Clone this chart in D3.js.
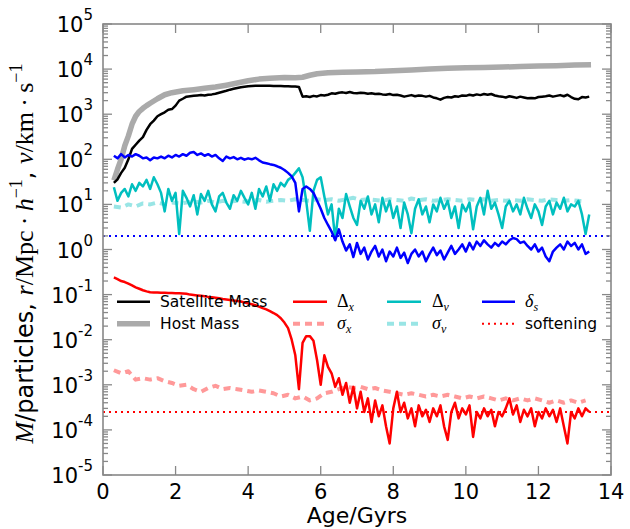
<!DOCTYPE html>
<html><head><meta charset="utf-8">
<script src="https://cdn.jsdelivr.net/npm/d3@7/dist/d3.min.js"></script>
<style>body{margin:0;background:#fff}svg{display:block}</style>
</head><body><svg id="c" width="630" height="529"></svg>
<script>
// ---------- data ----------
const ageStart = 0.3;      // Gyr, first snapshot of the sampled series
const fineStep = 0.1;      // Gyr between samples of the fine series
const coarseStep = 0.2;    // Gyr between samples of the sigma series

const hostAge  = [0.3,0.4,0.5,0.6,0.7,0.8,0.9,1.0,1.1,1.2,1.3,1.5,1.7,1.9,2.2,2.5,2.8,3.1,3.4,3.7,4.0,4.3,4.6,5.0,5.3,5.5,5.7,5.9,6.2,6.6,7.0,7.5,8.0,8.5,9.0,9.5,10.0,10.5,11.0,11.5,12.0,12.5,13.0,13.45];
const hostMass = [34,60,100,200,330,600,900,1150,1350,1550,1750,2200,2700,3000,3300,3500,3750,4000,4400,4900,5500,6000,6300,6500,6400,6600,7300,7900,8300,8500,8600,8800,9200,9500,10000,10400,10700,10900,11100,11400,11700,11900,12300,12500];

const satelliteMass = [
 30,36,50,65,100,170,210,260,310,450,
 600,720,900,1000,1100,1250,1300,1550,2000,2200,
 2450,2500,2550,2600,2650,2600,2700,2750,2850,3000,
 3150,3300,3500,3650,3800,3950,4050,4150,4200,4250,
 4250,4250,4250,4250,4230,4220,4200,4180,4150,4120,
 4100,4000,2450,2500,2400,2550,2480,2650,2600,2700,
 2900,2850,3000,3050,2950,3100,2950,2900,3000,2950,
 2850,2900,2800,2850,2750,2700,2800,2650,2700,2600,
 2450,2550,2650,2500,2600,2550,2450,2550,2350,2250,
 2100,2300,2400,2350,2500,2450,2600,2550,2700,2600,
 2750,2650,2800,2700,2800,2600,2500,2450,2350,2500,
 2400,2300,2450,2350,2250,2300,2250,2400,2450,2500,
 2600,2450,2550,2650,2500,2700,2400,2200,2150,2400,
 2350,2450];

const deltaX = [
 0.24,0.22,0.2,0.19,0.175,0.16,0.145,0.135,0.125,0.118,
 0.113,0.112,0.111,0.11,0.11,0.109,0.108,0.107,0.107,0.106,
 0.104,0.1,0.098,0.096,0.094,0.092,0.089,0.087,0.085,0.083,
 0.08,0.078,0.076,0.074,0.072,0.07,0.067,0.064,0.061,0.058,
 0.054,0.05,0.047,0.043,0.039,0.035,0.03,0.024,0.018,0.01,
 0.0045,0.0008,0.0085,0.012,0.012,0.0095,0.0035,0.001,0.0045,0.0025,
 0.0018,0.0009,0.0014,0.0006,0.0011,0.0004,0.0009,0.0003,0.0007,0.00025,
 0.0005,0.00015,0.00045,0.0002,0.00035,0.00012,0.00005,0.0003,0.0007,0.00025,
 0.0004,0.00018,0.0003,0.00012,0.00035,0.0002,0.00028,0.00015,0.0003,0.0002,
 0.00035,0.00012,0.00006,0.00025,0.0004,0.00018,0.0003,0.00022,0.00035,0.00007,
 0.00025,0.00018,0.0003,0.0002,0.00028,0.00012,0.00025,0.0002,0.0003,0.0005,
 0.00022,0.00035,0.00015,0.00028,0.0002,0.0003,0.00012,0.00025,0.00018,0.0003,
 0.0002,0.00028,0.00015,0.0003,0.00012,0.00005,0.00025,0.00018,0.0003,0.0002,
 0.0003,0.00025];

const sigmaX = [
 0.0021,0.0018,0.002,0.0013,0.0014,0.0013,0.0014,0.0012,0.0011,0.00095,
 0.001,0.0008,0.0007,0.00085,0.00095,0.0008,0.00085,0.0008,0.00075,0.0007,
 0.00075,0.0007,0.00065,0.00055,0.0006,0.0005,0.00055,0.00045,0.0005,0.00065,
 0.0007,0.0008,0.0009,0.00085,0.0009,0.0008,0.00085,0.00075,0.0007,0.00065,
 0.0006,0.00065,0.0006,0.00055,0.0006,0.00055,0.0006,0.00055,0.0005,0.00055,
 0.0005,0.00055,0.0005,0.00045,0.0005,0.00045,0.0005,0.00045,0.0005,0.00045,
 0.0004,0.00045,0.0004,0.00045,0.0004,0.00045];

const deltaV = [
 24,12,18,22,15,28,20,30,25,35,
 22,40,28,18,7,22,12,18,2.2,20,
 14,9,16,6,17,12,20,10,7,15,
 18,11,8,16,12,20,14,10,18,8,
 22,15,25,12,28,20,30,25,35,40,
 50,63,40,12,2.6,20,35,40,15,6,
 10,1.7,8,5,17,9,5,3.5,12,8,
 15,6,10,4,14,7,12,5,9,3,
 11,6,2.3,8,13,6,9,4,10,7,
 14,8,12,5,9,3,10,7,11,2.8,
 9,14,6,20,8,11,6,3,9,12,
 7,10,6,14,8,5,10,7,3.5,9,
 12,6,11,8,14,7,10,9,12,6,
 2.2,6];

const sigmaV = [
 9,8.5,10,9,10.5,10,11,10,11,10.5,
 11,11.5,11,12,11,12,11.5,12,11.5,12,
 12.5,11.5,12,12.5,12,13,12.5,12,13,12.5,
 13,12,13,14,12.5,13,12.5,12,13,12.5,
 12,13.5,12.5,13,12,12.5,13,12.5,12,13,
 12.5,13,12,12.5,12,12.5,12,13,12.5,12,
 13,12.5,12,12.5,12,11.5];

const deltaS = [
 120,105,130,110,125,115,130,120,105,110,
 95,110,105,115,105,120,110,125,115,130,
 120,140,145,125,135,120,130,115,125,105,
 92,115,105,112,100,108,98,105,100,108,
 95,85,82,78,75,70,65,58,50,42,
 30,7,22,25,22,18,12,8,5,3.5,
 2.5,1.6,2.8,1.5,0.95,1.3,0.68,1.4,0.8,1.1,
 0.6,0.9,1.2,0.7,1.0,0.55,0.9,0.7,1.1,0.65,
 0.85,0.5,0.8,1.0,0.7,0.9,0.55,0.8,1.1,0.75,
 0.95,0.6,0.85,1.2,0.8,1.0,1.3,0.9,1.4,1.0,
 1.5,1.2,1.6,1.3,1.1,1.4,1.2,1.5,1.3,1.6,
 1.8,1.7,1.4,1.5,1.2,1.0,1.3,0.9,1.1,0.7,
 0.55,0.9,1.1,1.3,1.0,1.5,1.2,1.4,1.0,1.3,
 0.8,0.9];

const softening = 2.5e-4;   // Mpc/h
const deltaSLevel = 2;      // reference level for delta_s
const xTickValues = [0,2,4,6,8,10,12,14];
const yDecades = [-5,-4,-3,-2,-1,0,1,2,3,4,5];

// ---------- drawing ----------
const svg = d3.select('#c');
const L = 103, R = 611, T = 24, B = 475;
const x = d3.scaleLinear().domain([0,14]).range([L,R]);
const y = d3.scaleLog().domain([1e-5,1e5]).range([B,T]);

svg.append('defs').append('clipPath').attr('id','clip')
  .append('rect').attr('x',L).attr('y',T).attr('width',R-L).attr('height',B-T);

const plot = svg.append('g').attr('clip-path','url(#clip)');
const line = d3.line().x(d=>x(d[0])).y(d=>y(d[1]));
const toPts = (vals, step) => vals.map((v,i)=>[ageStart + step*i, v]);

function draw(pts, color, width, dash){
  const p = plot.append('path').datum(pts).attr('d',line)
    .attr('fill','none').attr('stroke',color).attr('stroke-width',width)
    .attr('stroke-linejoin','round');
  if (dash) p.attr('stroke-dasharray',dash);
  return p;
}

const C = {
  host:'#aaaaaa', sat:'#000000', dx:'#ff0000', sx:'#ff9999',
  dv:'#00bfbf', sv:'#99e5e5', ds:'#0000ff'
};

draw(hostAge.map((a,i)=>[a,hostMass[i]]), C.host, 5.5);
draw(toPts(satelliteMass, fineStep), C.sat, 2.5);
draw(toPts(sigmaX, coarseStep), C.sx, 4, '7,5');
draw(toPts(deltaX, fineStep), C.dx, 2.5);
draw(toPts(sigmaV, coarseStep), C.sv, 4, '7,5');
draw(toPts(deltaV, fineStep), C.dv, 2.5);
draw(toPts(deltaS, fineStep), C.ds, 2.5);
draw([[0,softening],[14,softening]], '#ff0000', 2, '2,4');
draw([[0,deltaSLevel],[14,deltaSLevel]], '#0000ff', 2, '2,4');

// frame & ticks
const axisCol = '#888888';
const ax = svg.append('g').attr('stroke',axisCol).attr('stroke-width',1.3);
xTickValues.forEach(v=>{
  ax.append('line').attr('x1',x(v)).attr('x2',x(v)).attr('y1',B).attr('y2',B-9);
  ax.append('line').attr('x1',x(v)).attr('x2',x(v)).attr('y1',T).attr('y2',T+9);
});
yDecades.forEach(d=>{
  const yy = y(Math.pow(10,d));
  ax.append('line').attr('x1',L).attr('x2',L+9).attr('y1',yy).attr('y2',yy);
  ax.append('line').attr('x1',R).attr('x2',R-9).attr('y1',yy).attr('y2',yy);
  if (d < 5) for (let m=2;m<=9;m++){
    const ym = y(m*Math.pow(10,d));
    ax.append('line').attr('x1',L).attr('x2',L+5).attr('y1',ym).attr('y2',ym);
    ax.append('line').attr('x1',R).attr('x2',R-5).attr('y1',ym).attr('y2',ym);
  }
});
svg.append('rect').attr('x',L).attr('y',T).attr('width',R-L).attr('height',B-T)
  .attr('fill','none').attr('stroke',axisCol).attr('stroke-width',1.6);

// tick labels
const sans = 'DejaVu Sans, sans-serif';
xTickValues.forEach(v=>{
  svg.append('text').attr('x',x(v)).attr('y',498.5).attr('text-anchor','middle')
    .attr('font-family',sans).attr('font-size',21).attr('fill','#000').text(v);
});
yDecades.forEach(d=>{
  const t = svg.append('text').attr('x',93).attr('y',y(Math.pow(10,d))+8)
    .attr('text-anchor','end').attr('font-family',sans).attr('font-size',21).attr('fill','#000');
  t.append('tspan').text('10');
  t.append('tspan').attr('dy',-12).attr('font-size',15).text(d<0 ? '-'+(-d) : String(d));
});

// axis labels
svg.append('text').attr('x',(L+R)/2).attr('y',523).attr('text-anchor','middle')
  .attr('font-family',sans).attr('font-size',22).text('Age/Gyrs');

const serif = 'Liberation Serif, DejaVu Serif, serif';
const yl = svg.append('text').attr('transform',`translate(33,${(T+B)/2+4}) rotate(-90)`)
  .attr('text-anchor','middle').attr('font-size',26).attr('fill','#000');
const seg = (txt, fam, opts={}) => {
  const s = yl.append('tspan').attr('font-family',fam).text(txt);
  if (opts.italic) s.attr('font-style','italic');
  if (opts.size) s.attr('font-size',opts.size);
  if (opts.dy !== undefined) s.attr('dy',opts.dy);
  return s;
};
seg('M', serif, {italic:true});
seg('/particles, ', sans, {size:24});
seg('r', serif, {italic:true});
seg('/Mpc\u2009\u00b7\u2009', serif);
seg('h', serif, {italic:true});
seg('\u22121', serif, {size:18, dy:-11});
seg(', ', sans, {size:24, dy:11});
seg('v', serif, {italic:true});
seg('/km\u2009\u00b7\u2009s', serif);
seg('\u22121', serif, {size:18, dy:-11});

// legend
const lg = svg.append('g');
const rows = [301.7, 323.7];
const cols = [{h:[117,150], t:160},{h:[293,327], t:337},{h:[387,421], t:432},{h:[482,515], t:525}];
const items = [
  {c:0,r:0,color:C.sat,w:2.5,label:[['Satellite Mass',sans]]},
  {c:0,r:1,color:C.host,w:5.5,label:[['Host Mass',sans]]},
  {c:1,r:0,color:C.dx,w:2.5,label:[['\u0394',serif],['x',serif,'sub']]},
  {c:1,r:1,color:C.sx,w:4,dash:'7,5',label:[['\u03c3',serif,'it'],['x',serif,'sub']]},
  {c:2,r:0,color:C.dv,w:2.5,label:[['\u0394',serif],['v',serif,'sub']]},
  {c:2,r:1,color:C.sv,w:4,dash:'7,5',label:[['\u03c3',serif,'it'],['v',serif,'sub']]},
  {c:3,r:0,color:C.ds,w:2.5,label:[['\u03b4',serif,'it'],['s',serif,'sub']]},
  {c:3,r:1,color:'#ff0000',w:2,dash:'2,4',label:[['softening',sans]]}
];
items.forEach(it=>{
  const col = cols[it.c], yy = rows[it.r];
  const l = lg.append('line').attr('x1',col.h[0]).attr('x2',col.h[1]).attr('y1',yy).attr('y2',yy)
    .attr('stroke',it.color).attr('stroke-width',it.w);
  if (it.dash) l.attr('stroke-dasharray',it.dash);
  const t = lg.append('text').attr('x',col.t).attr('y',yy+5.7).attr('font-size',15.5).attr('fill','#000');
  it.label.forEach(([s,fam,kind])=>{
    const sp = t.append('tspan').attr('font-family',fam).text(s);
    if (fam===serif) sp.attr('font-size',18);
    if (kind==='it') sp.attr('font-style','italic');
    if (kind==='sub') sp.attr('font-style','italic').attr('font-size',12).attr('dy',4);
  });
});
</script></body></html>
